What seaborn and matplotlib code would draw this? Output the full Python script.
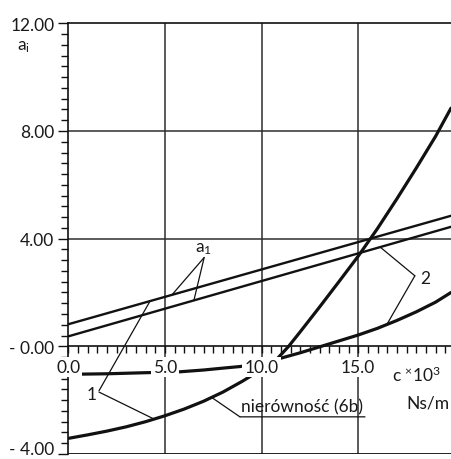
import numpy as np
import pandas as pd
import matplotlib
matplotlib.use("Agg")
import matplotlib.pyplot as plt
from matplotlib.ticker import MultipleLocator, FixedLocator, FixedFormatter
import seaborn as sns

# values (c in 10^3 Ns/m, a_i)
a1_x = [0.0, 19.8]
a1_upper = [0.82, 4.85]
a1_lower = [0.37, 4.44]

steep_x = [0, 1, 2, 3, 4, 5, 6, 7, 8, 9, 10, 10.8, 11.4, 12, 13, 14, 15,
           16, 17, 18, 19, 19.8]
steep_y = [-3.42, -3.29, -3.15, -2.99, -2.80, -2.58, -2.33, -2.04, -1.70, -1.30,
           -0.86, -0.47, 0.0, 0.54, 1.46, 2.40, 3.35, 4.38, 5.48, 6.62, 7.80, 8.85]

flat_x = [0, 2, 4, 5.7, 7, 8, 8.9, 10, 10.8, 12, 13, 14, 15, 16, 17, 18, 19, 19.8]
flat_y = [-1.04, -1.02, -0.98, -0.95, -0.88, -0.81, -0.75, -0.62, -0.48, -0.24,
          -0.02, 0.20, 0.42, 0.67, 0.96, 1.28, 1.64, 2.0]

x_ticks = [0, 5, 10, 15]
x_labels = ["0.0", "5.0", "10.0", "15.0"]
y_ticks = [-4, 0, 4, 8, 12]
y_labels = ["- 4.00", "- 0.00", "4.00", "8.00", "12.00"]

sns.set_theme(style="white")
plt.rcParams['font.family'] = ['Lato', 'DejaVu Sans']
plt.rcParams['mathtext.fontset'] = 'custom'
plt.rcParams['mathtext.rm'] = 'Lato'
plt.rcParams['mathtext.it'] = 'Lato'

fig = plt.figure(figsize=(4.51, 4.60), dpi=100)
ax = fig.add_axes([0.1514, 0.0109, 0.8486, 0.9362])
ax.set_xlim(0, 19.8)
ax.set_ylim(-4, 12)

ink = "#111111"
txt = "#1a1a1a"
grid_c = "#2e2e2e"

# grid
for gx in x_ticks[1:]:
    ax.axvline(gx, color=grid_c, lw=1.1, zorder=1)
for gy in [4, 8]:
    ax.axhline(gy, color=grid_c, lw=1.1, zorder=1)
ax.axhline(-4, color=ink, lw=1.3, zorder=1)

# curves
sns.lineplot(x=a1_x, y=a1_upper, color=ink, lw=1.7, ax=ax, zorder=3)
sns.lineplot(x=a1_x, y=a1_lower, color=ink, lw=1.7, ax=ax, zorder=3)
sns.lineplot(x=steep_x, y=steep_y, color=ink, lw=2.3, ax=ax, sort=False, zorder=3)
sns.lineplot(x=flat_x, y=flat_y, color=ink, lw=2.3, ax=ax, sort=False, zorder=3)

# spines
for s in ["left", "top", "bottom"]:
    ax.spines[s].set_color(ink)
    ax.spines[s].set_linewidth(1.2)
ax.spines["right"].set_visible(False)
ax.spines["bottom"].set_position(("data", 0))

ax.xaxis.set_major_locator(FixedLocator(x_ticks))
ax.xaxis.set_major_formatter(FixedFormatter(x_labels))
ax.xaxis.set_minor_locator(MultipleLocator(0.5))
ax.yaxis.set_major_locator(FixedLocator(y_ticks))
ax.yaxis.set_major_formatter(FixedFormatter(y_labels))
ax.yaxis.set_minor_locator(MultipleLocator(0.4))

ax.tick_params(axis="x", which="both", direction="out", length=5, width=1.0,
               color=ink, bottom=True, labelsize=12.5, labelcolor=txt, pad=4)
ax.tick_params(axis="y", which="major", direction="out", length=7, width=1.0,
               color=ink, left=True, labelsize=12.5, labelcolor=txt, pad=3)
ax.tick_params(axis="y", which="minor", direction="out", length=5, width=1.0,
               color=ink, left=True)
for lbl in ax.get_xticklabels():
    lbl.set_bbox(dict(facecolor="white", edgecolor="none", pad=1.5))
# keep the bottom label inside the figure
ax.get_yticklabels()[0].set_verticalalignment("baseline")
ax.xaxis.set_zorder(4)
ax.set_xlabel("")
ax.set_ylabel("")

# labels
fig.text(0.038, 0.898, r"$\mathregular{a_i}$", fontsize=12.5, color=txt,
         va="center")
ax.text(16.74, -1.05, r"c $^{\times}$10$^{3}$", fontsize=12.5, color=txt,
        va="center", ha="left")
ax.text(17.5, -2.09, "Ns/m", fontsize=12.5, color=txt, va="center", ha="left")

leader = dict(arrowstyle="-", color=ink, lw=0.9, shrinkA=0, shrinkB=0)

ax.text(6.97, 3.67, r"$\mathregular{a_1}$", fontsize=12.5, color=txt,
        ha="center", va="center")
ax.annotate("", xy=(5.36, 1.91), xytext=(7.03, 3.30), arrowprops=leader)
ax.annotate("", xy=(6.50, 1.71), xytext=(7.03, 3.30), arrowprops=leader)

ax.text(1.23, -1.76, "1", fontsize=12.5, color=txt, ha="center", va="center")
ax.annotate("", xy=(4.23, 1.68), xytext=(1.59, -1.65), arrowprops=leader)
ax.annotate("", xy=(4.43, -2.70), xytext=(1.59, -1.70), arrowprops=leader)

ax.text(18.45, 2.55, "2", fontsize=12.5, color=txt, ha="center", va="center")
ax.annotate("", xy=(16.13, 3.69), xytext=(17.93, 2.62), arrowprops=leader)
ax.annotate("", xy=(16.48, 0.81), xytext=(17.93, 2.62), arrowprops=leader)

ax.text(8.95, -2.23, "nierówność (6b)", fontsize=12.5, color=txt,
        ha="left", va="center")
ax.annotate("", xy=(7.44, -1.91), xytext=(8.88, -2.62), arrowprops=leader)
ax.annotate("", xy=(15.35, -2.62), xytext=(8.88, -2.62), arrowprops=leader)

fig.savefig("out.png", dpi=100)
